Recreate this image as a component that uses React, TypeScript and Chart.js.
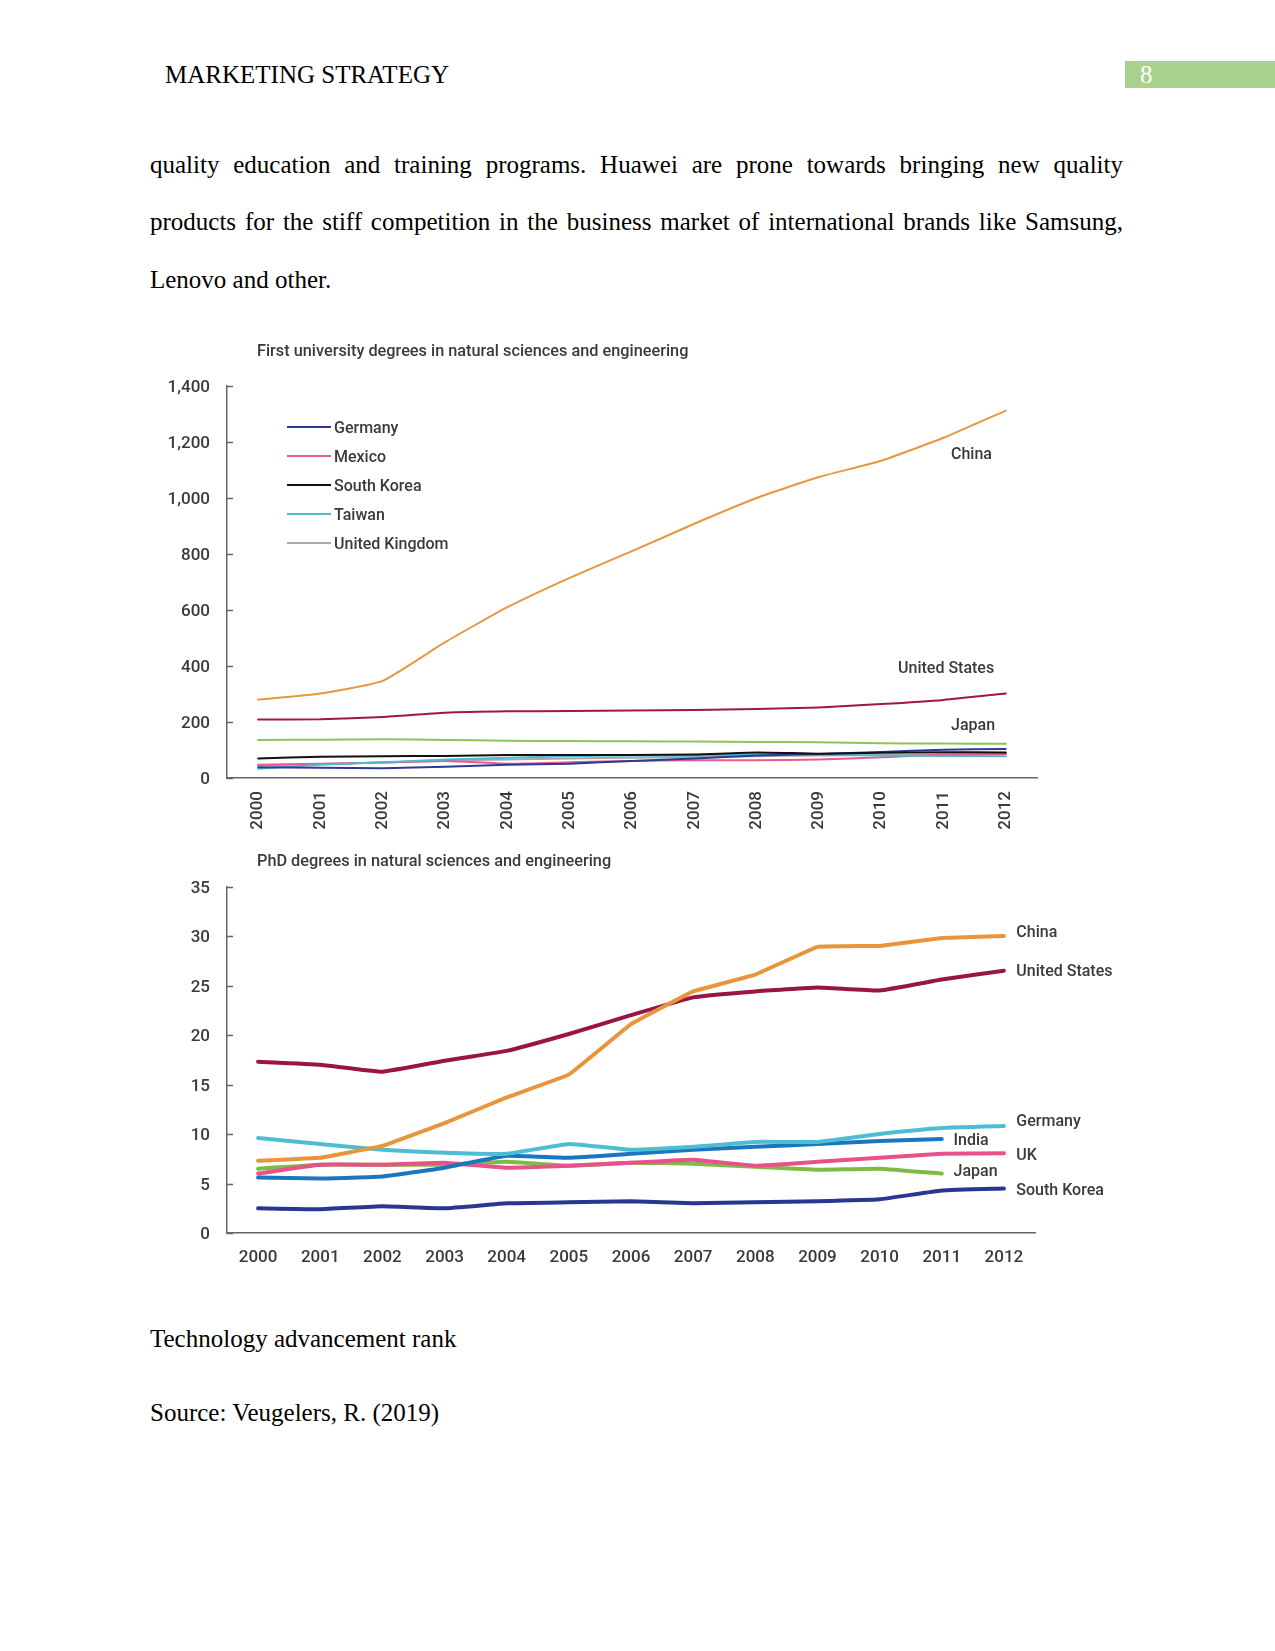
import React, { useEffect, useRef } from 'react';
import { Chart, registerables } from 'chart.js';

Chart.register(...registerables);

// ---------- data ----------
const years = ['2000', '2001', '2002', '2003', '2004', '2005', '2006', '2007', '2008', '2009', '2010', '2011', '2012'];

// First university degrees in natural sciences and engineering (thousands)
const firstChina = [280, 302, 347, 485, 610, 715, 810, 908, 1000, 1075, 1133, 1215, 1312];
const firstUS = [209, 210, 218, 233, 238, 239, 241, 243, 246, 252, 264, 279, 302];
const firstJapan = [136, 137, 138, 136, 133, 132, 131, 130, 129, 128, 124, 123, 122];
const firstSouthKorea = [70, 76, 78, 79, 82, 82, 82, 84, 91, 87, 90, 92, 91];
const firstGermany = [38, 37, 35, 40, 47, 51, 61, 70, 80, 86, 93, 101, 104];
const firstMexico = [47, 51, 55, 61, 51, 56, 61, 63, 63, 66, 74, 84, 86];
const firstTaiwan = [33, 47, 56, 66, 72, 78, 80, 80, 85, 84, 80, 79, 78];
const firstUK = [45, 50, 55, 62, 66, 70, 72, 75, 78, 80, 82, 84, 86];

// PhD degrees in natural sciences and engineering (thousands)
const phdChina = [7.3, 7.6, 8.8, 11.1, 13.7, 16.0, 21.1, 24.4, 26.1, 28.9, 29.0, 29.8, 30.0];
const phdUS = [17.3, 17.0, 16.3, 17.4, 18.4, 20.1, 22.0, 23.8, 24.4, 24.8, 24.5, 25.6, 26.5];
const phdGermany = [9.6, 9.0, 8.4, 8.1, 8.0, 9.0, 8.4, 8.7, 9.2, 9.2, 10.0, 10.6, 10.8];
const phdIndia = [5.6, 5.5, 5.7, 6.6, 7.8, 7.6, 8.0, 8.4, 8.7, 9.0, 9.3, 9.5, null];
const phdUK = [6.0, 6.9, 6.9, 7.1, 6.6, 6.8, 7.1, 7.4, 6.8, 7.2, 7.6, 8.0, 8.05];
const phdJapan = [6.5, 6.9, 6.9, 6.9, 7.2, 6.8, 7.1, 7.0, 6.7, 6.4, 6.5, 6.0, null];
const phdSouthKorea = [2.5, 2.4, 2.7, 2.5, 3.0, 3.1, 3.2, 3.0, 3.1, 3.2, 3.4, 4.3, 4.5];

const firstTitle = 'First university degrees in natural sciences and engineering';
const phdTitle = 'PhD degrees in natural sciences and engineering';

// ---------- styles ----------
const FONT = 'Roboto, "Noto Sans", sans-serif';
const TEXT = '#3a3a3a';
const AXIS = '#666666';

const C = {
  china: '#E8973E',
  us: '#A1154C',
  japan: '#8CC35A',
  korea: '#111111',
  germany: '#2E3A92',
  mexico: '#E9588F',
  taiwan: '#4DBACD',
  uk: '#AAAAAA',
  phdChina: '#E8953B',
  phdUS: '#9B1446',
  phdGermany: '#4EBDD3',
  phdIndia: '#1C76BD',
  phdUK: '#E9518C',
  phdJapan: '#7DBB45',
  phdKorea: '#283891',
};

type LegendItem = { text: string; color: string };
type EndLabel = { text: string; x: number; y: number };

const makeDecor = (title: string, legend: LegendItem[], labels: EndLabel[]) => ({
  id: 'decor',
  afterDraw(chart: any) {
    const { ctx, chartArea: a, scales } = chart;
    const xs = scales.x;
    const ys = scales.y;
    ctx.save();
    // inward tick marks on the value axis
    ctx.strokeStyle = AXIS;
    ctx.lineWidth = 1.5;
    ys.ticks.forEach((t: any) => {
      const py = Math.round(ys.getPixelForValue(t.value)) + 0.5;
      ctx.beginPath();
      ctx.moveTo(a.left, py);
      ctx.lineTo(a.left + 6, py);
      ctx.stroke();
    });
    ctx.fillStyle = TEXT;
    ctx.textBaseline = 'middle';
    ctx.textAlign = 'left';
    ctx.font = `500 16.3px ${FONT}`;
    ctx.fillText(title, a.left + 30, 22);
    ctx.font = `500 16px ${FONT}`;
    legend.forEach((item, i) => {
      const y = a.top + 41 + i * 29;
      ctx.strokeStyle = item.color;
      ctx.lineWidth = 2;
      ctx.beginPath();
      ctx.moveTo(a.left + 60, y);
      ctx.lineTo(a.left + 104, y);
      ctx.stroke();
      ctx.fillText(item.text, a.left + 107, y + 2);
    });
    labels.forEach((l) => {
      ctx.fillText(l.text, xs.getPixelForValue(l.x), ys.getPixelForValue(l.y) + 2);
    });
    ctx.restore();
  },
});

const ds = (label: string, data: (number | null)[], color: string, width: number, tension: number) => ({
  label,
  data,
  borderColor: color,
  backgroundColor: color,
  borderWidth: width,
  tension,
  pointRadius: 0,
  fill: false,
  spanGaps: false,
  borderCapStyle: 'round',
  borderJoinStyle: 'round',
});

const axisBorder = { display: true, color: AXIS, width: 1.5 };

function buildFirst() {
  return {
    type: 'line',
    data: {
      labels: years,
      datasets: [
        ds('China', firstChina, C.china, 2, 0.15),
        ds('United States', firstUS, C.us, 2, 0.2),
        ds('Japan', firstJapan, C.japan, 2, 0.2),
        ds('South Korea', firstSouthKorea, C.korea, 2, 0.2),
        ds('Germany', firstGermany, C.germany, 2, 0.2),
        ds('Taiwan', firstTaiwan, C.taiwan, 2, 0.2),
        ds('Mexico', firstMexico, C.mexico, 2, 0.2),
        ds('United Kingdom', firstUK, C.uk, 2, 0.2),
      ],
    },
    options: {
      animation: false,
      responsive: false,
      devicePixelRatio: 1,
      layout: { padding: { top: 56, right: 88, left: 0, bottom: 0 } },
      plugins: { legend: { display: false }, tooltip: { enabled: false }, title: { display: false } },
      scales: {
        x: {
          type: 'category',
          offset: true,
          grid: { display: false, drawTicks: false },
          border: axisBorder,
          ticks: {
            color: TEXT,
            font: { family: FONT, size: 17, weight: '500' },
            minRotation: 90,
            maxRotation: 90,
            padding: 13,
            autoSkip: false,
          },
          afterFit: (s: any) => { s.height = 62; },
        },
        y: {
          min: 0,
          max: 1400,
          grid: { display: false, drawTicks: false },
          border: axisBorder,
          ticks: {
            stepSize: 200,
            color: TEXT,
            font: { family: FONT, size: 17, weight: '500' },
            padding: 17,
            labelOffset: 2,
            callback: (v: any) => Number(v).toLocaleString('en-US'),
          },
          afterFit: (s: any) => { s.width = 77; },
        },
      },
    },
    plugins: [
      makeDecor(
        firstTitle,
        [
          { text: 'Germany', color: C.germany },
          { text: 'Mexico', color: C.mexico },
          { text: 'South Korea', color: C.korea },
          { text: 'Taiwan', color: C.taiwan },
          { text: 'United Kingdom', color: C.uk },
        ],
        [
          { text: 'China', x: 11.12, y: 1160 },
          { text: 'United States', x: 10.27, y: 395 },
          { text: 'Japan', x: 11.12, y: 192 },
        ]
      ),
    ],
  };
}

function buildPhd() {
  return {
    type: 'line',
    data: {
      labels: years,
      datasets: [
        ds('China', phdChina, C.phdChina, 4, 0.05),
        ds('United States', phdUS, C.phdUS, 4, 0.1),
        ds('Germany', phdGermany, C.phdGermany, 4, 0.1),
        ds('India', phdIndia, C.phdIndia, 4, 0.1),
        ds('UK', phdUK, C.phdUK, 4, 0.1),
        ds('Japan', phdJapan, C.phdJapan, 4, 0.1),
        ds('South Korea', phdSouthKorea, C.phdKorea, 4, 0.1),
      ],
    },
    options: {
      animation: false,
      responsive: false,
      devicePixelRatio: 1,
      layout: { padding: { top: 46.5, right: 90, left: 0, bottom: 0 } },
      plugins: { legend: { display: false }, tooltip: { enabled: false }, title: { display: false } },
      scales: {
        x: {
          type: 'category',
          offset: true,
          grid: { display: false, drawTicks: false },
          border: axisBorder,
          ticks: {
            color: TEXT,
            font: { family: FONT, size: 17, weight: '500' },
            maxRotation: 0,
            minRotation: 0,
            padding: 15,
            autoSkip: false,
          },
          afterFit: (s: any) => { s.height = 47; },
        },
        y: {
          min: 0,
          max: 35,
          grid: { display: false, drawTicks: false },
          border: axisBorder,
          ticks: {
            stepSize: 5,
            color: TEXT,
            font: { family: FONT, size: 17, weight: '500' },
            padding: 17,
            labelOffset: 2,
          },
          afterFit: (s: any) => { s.width = 77; },
        },
      },
    },
    plugins: [
      makeDecor(
        phdTitle,
        [],
        [
          { text: 'China', x: 12.2, y: 30.5 },
          { text: 'United States', x: 12.2, y: 26.6 },
          { text: 'Germany', x: 12.2, y: 11.4 },
          { text: 'India', x: 11.19, y: 9.5 },
          { text: 'UK', x: 12.2, y: 8.0 },
          { text: 'Japan', x: 11.19, y: 6.4 },
          { text: 'South Korea', x: 12.2, y: 4.4 },
        ]
      ),
    ],
  };
}

function ChartBox({ left, top, width, height, build }: { left: number; top: number; width: number; height: number; build: () => any }) {
  const ref = useRef<HTMLCanvasElement | null>(null);
  useEffect(() => {
    const chart = new Chart(ref.current as HTMLCanvasElement, build());
    return () => chart.destroy();
  }, []);
  return (
    <div style={{ position: 'absolute', left, top, width, height }}>
      <canvas ref={ref} width={width} height={height} style={{ width, height, display: 'block' }} />
    </div>
  );
}

const serif = '"Liberation Serif", "Times New Roman", serif';

export default function App() {
  return (
    <div style={{ position: 'absolute', left: 0, top: 0, width: 1275, height: 1651, background: '#fff', overflow: 'hidden' }}>
      <div style={{ position: 'absolute', left: 165, top: 55, height: 40, lineHeight: '40px', fontSize: 25, fontFamily: serif, color: '#000' }}>
        MARKETING STRATEGY
      </div>
      <div style={{ position: 'absolute', left: 1125, top: 61, width: 150, height: 27, background: '#A9D18E' }}>
        <div style={{ position: 'absolute', left: 15, top: -6, lineHeight: '40px', fontSize: 25, fontFamily: serif, color: '#fff' }}>8</div>
      </div>

      <div style={{ position: 'absolute', left: 150, top: 145, width: 973, lineHeight: '40px', fontSize: 25, fontFamily: serif, textAlign: 'justify', textAlignLast: 'justify' } as React.CSSProperties}>
        quality education and training programs. Huawei are prone towards bringing new quality
      </div>
      <div style={{ position: 'absolute', left: 150, top: 202, width: 973, lineHeight: '40px', fontSize: 25, fontFamily: serif, textAlign: 'justify', textAlignLast: 'justify' } as React.CSSProperties}>
        products for the stiff competition in the business market of international brands like Samsung,
      </div>
      <div style={{ position: 'absolute', left: 150, top: 260, width: 973, lineHeight: '40px', fontSize: 25, fontFamily: serif }}>
        Lenovo and other.
      </div>

      <ChartBox left={150} top={330} width={975} height={510} build={buildFirst} />
      <ChartBox left={150} top={840} width={975} height={440} build={buildPhd} />

      <div style={{ position: 'absolute', left: 150, top: 1319, lineHeight: '40px', fontSize: 25, fontFamily: serif }}>
        Technology advancement rank
      </div>
      <div style={{ position: 'absolute', left: 150, top: 1393, lineHeight: '40px', fontSize: 25, fontFamily: serif }}>
        Source: Veugelers, R. (2019)
      </div>
    </div>
  );
}
